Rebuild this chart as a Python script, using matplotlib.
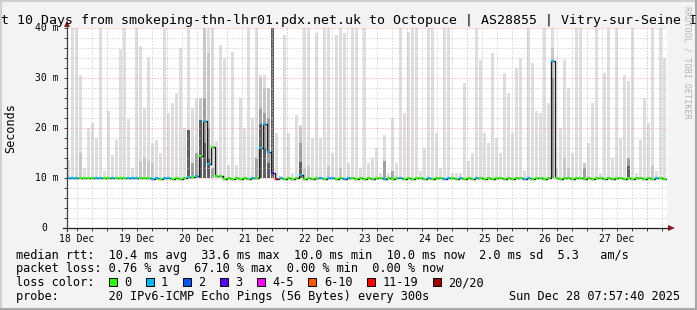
import numpy as np
import matplotlib
matplotlib.use("Agg")
import matplotlib.pyplot as plt
from matplotlib.patches import Rectangle, Polygon
from matplotlib.transforms import blended_transform_factory, offset_copy

W, H = 697, 310
MONO = "DejaVu Sans Mono"

title = ("Last 10 Days from smokeping-thn-lhr01.pdx.net.uk to Octopuce"
         " | AS28855 | Vitry-sur-Seine IDF")
day_labels = ["18 Dec", "19 Dec", "20 Dec", "21 Dec", "22 Dec",
              "23 Dec", "24 Dec", "25 Dec", "26 Dec", "27 Dec"]
y_vals = [10, 20, 30, 40]
y_labels = ["10 m", "20 m", "30 m", "40 m"]

# start of graph is Dec 18 07:57:40, x axis in hours since then
first_noon = 4 + 2 / 60 + 20 / 3600
span_h = 240
bin_h = 1.6

# outermost smoke (max ping per bin), ms
smoke_max = [
    13.6, 40, 40, 30.6, 12, 20, 21, 18, 40, 11.5, 23.4, 14.6, 17.6, 35.8, 40, 21.8, 12, 40, 36.5, 24, 34.3, 17, 17.6, 15, 40,
    23, 25, 27, 36, 20, 40, 24, 26, 23.6, 40, 40, 40, 17.5, 36.6, 34, 12.6, 35.3, 12.6, 26, 20, 40, 22, 40, 30.6, 30.6,
    28, 40, 19, 10.5, 38.6, 19, 11, 22.6, 20.6, 40, 40, 18, 39, 18, 40, 40, 15, 38.6, 40, 39, 13, 40, 40, 12, 40,
    13, 14, 16, 11, 18.6, 11, 22, 13, 40, 23, 39.3, 40, 40, 11.5, 16, 40, 40, 19, 12, 40, 40, 11, 11, 11, 29,
    13.4, 15, 40, 33.6, 19, 17, 35, 18, 15, 31, 27, 19, 32, 34, 11.5, 40, 33, 23.4, 23, 40, 25, 40, 12, 20, 33.6,
    28, 15, 40, 40, 13, 17, 25, 40, 11, 31, 40, 14, 40, 18, 30.7, 29.5, 40, 11, 17.6, 26, 21, 40, 11.5, 40, 34,
]

# inner smoke layers (only where visible)
mid_bins = [3, 18, 19, 20, 21, 33, 34, 35, 48, 49, 50, 58, 59, 60, 65, 68, 121, 124, 125, 129, 146]
mid_top = [15, 13.5, 14, 13.5, 13, 26, 40, 35, 30, 28, 28, 20.3, 12, 12.5, 12.5, 12, 36, 14, 12, 13, 12.5]
dark_bins = [31, 32, 34, 35, 36, 47, 48, 49, 50, 58, 79, 81, 121, 129, 140]
dark_top = [13, 15, 26, 20, 12, 14, 24, 23, 22, 17, 13.4, 11.5, 30, 12, 14]
black_bins = [30, 33, 34, 35, 48, 49, 50, 51, 58, 140]
black_top = [19.6, 21.6, 17, 14, 20.8, 16, 13, 40, 13.3, 12.5]

median = [
    10.0, 10.0, 10.0, 10.0, 10.0, 10.0, 10.0, 10.0, 10.0, 10.0, 10.0, 10.0, 10.0, 10.0, 10.0, 10.0, 10.0, 10.0, 10.0, 10.0, 10.0, 9.8, 10.0, 9.8, 10.0,
    10.0, 9.8, 10.0, 9.8, 10.0, 10.2, 10.2, 10.4, 14.5, 21.5, 12.9, 16.3, 10.4, 10.4, 9.8, 10.0, 9.8, 10.0, 9.8, 10.0, 9.8, 10.0, 10.0, 16.1, 20.9,
    15.2, 11.1, 9.9, 10.0, 9.8, 10.0, 9.8, 10.0, 10.6, 9.8, 10.0, 9.8, 10.0, 10.0, 9.8, 10.0, 10.0, 9.8, 10.0, 9.8, 10.0, 10.0, 9.8, 10.0, 9.8,
    10.0, 9.8, 10.0, 10.0, 9.8, 10.0, 9.8, 10.0, 10.0, 9.8, 10.0, 9.8, 10.0, 10.0, 9.8, 10.0, 9.8, 10.0, 10.0, 9.8, 10.0, 10.0, 9.8, 10.0, 9.8,
    10.0, 9.8, 10.0, 10.0, 9.8, 10.0, 9.8, 10.0, 10.0, 9.8, 10.0, 9.8, 10.0, 10.0, 9.8, 10.0, 9.8, 10.0, 10.0, 9.8, 10.0, 33.4, 10.0, 9.8, 10.0,
    10.0, 9.8, 10.0, 10.0, 9.8, 10.0, 9.8, 10.0, 10.0, 9.8, 10.0, 9.8, 10.0, 10.0, 9.8, 10.0, 9.8, 10.0, 10.0, 9.8, 10.0, 9.8, 10.0, 10.0, 9.8,
]

# loss class index per bin (0 = no loss, 1 = 1 lost, ...)
loss = [
    1, 1, 1, 0, 0, 0, 0, 1, 1, 0, 0, 1, 0, 0, 0, 1, 1, 1, 0, 0, 0, 1, 1, 0, 1,
    1, 0, 0, 0, 0, 1, 0, 1, 0, 1, 1, 0, 0, 0, 0, 0, 0, 0, 0, 0, 0, 1, 0, 1, 1,
    1, 3, 6, 1, 0, 0, 0, 0, 1, 0, 0, 0, 0, 1, 0, 1, 1, 0, 0, 1, 1, 0, 0, 0, 0,
    0, 0, 0, 0, 1, 0, 0, 0, 1, 0, 0, 0, 0, 0, 0, 1, 0, 0, 0, 1, 1, 0, 0, 1, 0,
    0, 0, 1, 0, 0, 0, 0, 0, 0, 0, 0, 0, 0, 0, 1, 1, 0, 0, 0, 0, 0, 1, 0, 0, 0,
    0, 0, 0, 0, 0, 0, 0, 0, 0, 0, 0, 0, 0, 0, 0, 0, 0, 0, 0, 0, 0, 0, 1, 0, 0,
]

loss_labels = ["0", "1", "2", "3", "4-5", "6-10", "11-19", "20/20"]
loss_colors = ["#26ff00", "#00b8ff", "#0059ff", "#5e00ff",
               "#ff00ff", "#ff5500", "#ff0000", "#a10000"]

legend_rows = [
    "median rtt:  10.4 ms avg  33.6 ms max  10.0 ms min  10.0 ms now  2.0 ms sd  5.3   am/s",
    "packet loss: 0.76 % avg  67.10 % max  0.00 % min  0.00 % now",
    "loss color:",
    "probe:       20 IPv6-ICMP Echo Pings (56 Bytes) every 300s",
]
stamp = "Sun Dec 28 07:57:40 2025"

# ---------------------------------------------------------------
fig = plt.figure(figsize=(W / 100, H / 100), dpi=100, facecolor="#f3f3f3")
ax = fig.add_axes([67 / W, (H - 228) / H, 600 / W, 200.5 / H])
ax.set_xlim(0, span_h)
ax.set_ylim(0, 40.1)
ax.set_facecolor("white")
for s in ax.spines.values():
    s.set_visible(False)

t = np.arange(len(smoke_max)) * bin_h
bw = bin_h * 0.8
smax = np.array(smoke_max)
ax.bar(t, smax - 10, bottom=10, width=bw, align="edge", color="#dedede", lw=0, zorder=1)
for bins, tops, col in [(mid_bins, mid_top, "#c8c8c8"),
                        (dark_bins, dark_top, "#a0a0a0"),
                        (black_bins, black_top, "#606060")]:
    bins = np.array(bins)
    ax.bar(t[bins], np.array(tops) - 10, bottom=10, width=bw, align="edge",
           color=col, lw=0, zorder=1.5)

# grid
dot = (0, (1, 2))
minor_h = np.arange(first_noon, span_h, 6)
major_h = np.arange(first_noon + 12, span_h, 24)
for h in minor_h:
    if np.min(np.abs(major_h - h)) > 0.1:
        ax.axvline(h, color="#c4c4c4", lw=0.72, ls=dot, zorder=3)
for h in major_h:
    ax.axvline(h, color="#f0a0a0", lw=0.72, ls=dot, zorder=3)
for v in range(2, 41, 2):
    col = "#f0a0a0" if v % 10 == 0 else "#c4c4c4"
    ax.axhline(v, color=col, lw=0.72, ls=dot, zorder=3)

# median
med = np.array(median)
ls = np.array(loss)
ax.step(np.append(t, span_h), np.append(med, med[-1]), where="post",
        color="#202020", lw=1.0, zorder=4)
for k, col in enumerate(loss_colors):
    m = ls == k
    if m.any():
        ax.hlines(med[m], t[m], t[m] + bin_h * 0.85, colors=col, lw=1.6, zorder=5)

ax.set_xticks(minor_h)
ax.set_yticks(np.arange(0, 41, 2))
ax.tick_params(length=2, width=0.7, color="#404040", direction="out",
               labelbottom=False, labelleft=False)

# overlay in pixel coordinates
ov = fig.add_axes([0, 0, 1, 1], zorder=3)
ov.set_xlim(0, W)
ov.set_ylim(H, 0)
ov.axis("off")
ov.patch.set_alpha(0)

# 3d frame
ov.plot([0, W], [1, 1], color="#d0d0d0", lw=1.5)
ov.plot([1, 1], [0, H], color="#d0d0d0", lw=1.5)
ov.plot([0, W], [H - 1, H - 1], color="#a8a8a8", lw=1.5)
ov.plot([W - 1, W - 1], [0, H], color="#a8a8a8", lw=1.5)

# axes lines and arrows
ov.plot([67, 67], [231, 26], color="#404040", lw=0.9)
ov.plot([63, 668], [228, 228], color="#202020", lw=0.9)
ov.add_patch(Polygon([[67, 20.5], [64, 27], [70, 27]], closed=True, color="#8b1a1a", lw=0))
ov.add_patch(Polygon([[675, 228], [668, 225], [668, 231]], closed=True, color="#8b1a1a", lw=0))

ov.text(-23.4, 24, title, fontsize=9.53, family=MONO, ha="left", va="baseline", color="black")
ov.text(687, 62, "RRDTOOL / TOBI OETIKER", fontsize=6.1, family=MONO, rotation=-90,
        ha="center", va="center", color="#b4b4b4")
ov.text(10.5, 128, "Seconds", fontsize=8.5, family=MONO, rotation=90, ha="center", va="center")

tx = blended_transform_factory(ax.transData, ov.transData)
for i, lab in enumerate(day_labels):
    ov.text(first_noon + 24 * i, 241.5, lab, transform=tx, fontsize=7, family=MONO,
            ha="center", va="baseline")
ty = offset_copy(blended_transform_factory(ax.transAxes, ax.transData), fig=fig, x=-8.5, y=0, units="dots")
for v, lab in zip(y_vals, y_labels):
    ax.text(0, v, lab, transform=ty, fontsize=7, family=MONO, ha="right", va="center")
ty0 = offset_copy(blended_transform_factory(ax.transAxes, ax.transData), fig=fig, x=-20.2, y=0, units="dots")
ax.text(0, 0, "0", transform=ty0, fontsize=7, family=MONO, ha="right", va="center")

# legend
base = [258.7, 272.3, 286.3, 300]
for row, yb in zip(legend_rows, base):
    ov.text(16, yb, row, fontsize=8.54, family=MONO, ha="left", va="baseline")
ov.text(680, base[3], stamp, fontsize=8.54, family=MONO, ha="right", va="baseline")
x = 108.5
for lab, col in zip(loss_labels, loss_colors):
    ov.add_patch(Rectangle((x, 278), 8, 8, facecolor=col, edgecolor="black", lw=0.7))
    ov.text(x + 15.3, base[2], lab, fontsize=8.54, family=MONO, ha="left", va="baseline")
    x += 30 + 7.14 * len(lab)

fig.savefig("out.png", dpi=100, facecolor=fig.get_facecolor())
